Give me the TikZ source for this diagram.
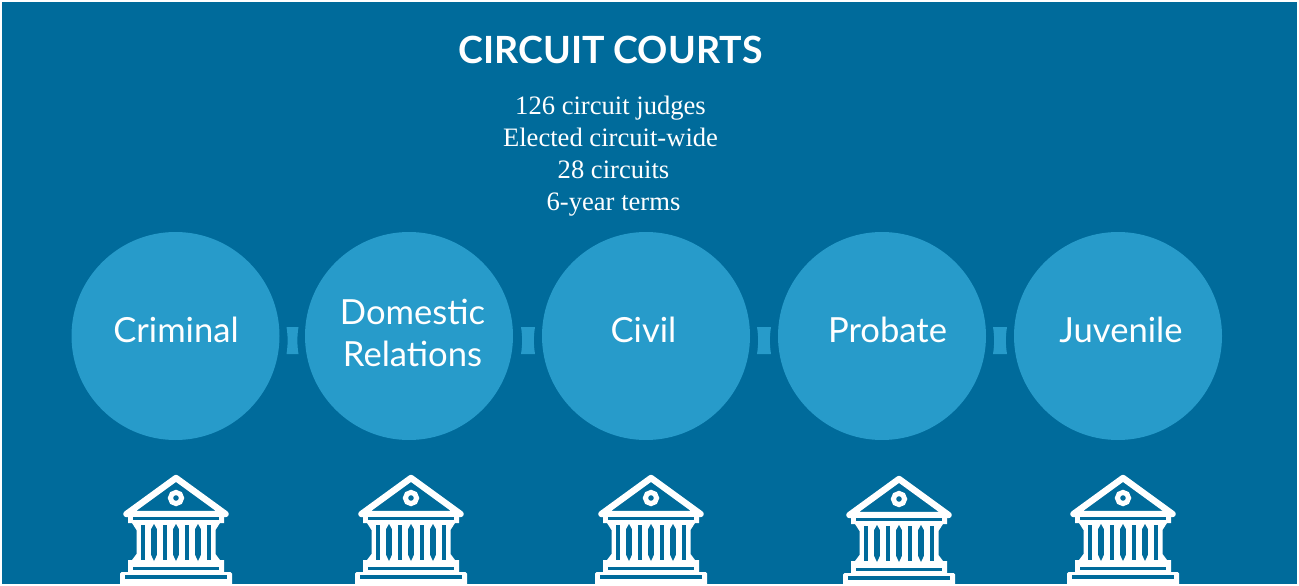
\documentclass[tikz,border=0pt]{standalone}
\usepackage{fontspec}
\setmainfont{Lato}
\newfontfamily\bodyfont{Liberation Serif}
\usetikzlibrary{calc}
\definecolor{bgblue}{HTML}{006B9B}
\definecolor{circblue}{HTML}{279BCA}
\tikzset{
  x=1pt,y=-1pt,
  topic/.style={circle,fill=circblue,draw=none,minimum size=208pt,inner sep=0pt},
  topiclabel/.style={text=white,font=\fontsize{34.6}{42.5}\selectfont,inner sep=0pt,align=center},
  title/.style={text=white,font=\fontsize{37.5}{50}\selectfont\bfseries,inner sep=0pt,anchor=base},
  detail/.style={text=white,font=\fontsize{26.6}{32}\selectfont\bodyfont,inner sep=0pt,anchor=base},
  linkfill/.style={fill=circblue,draw=none},
  court/.pic={
    % roof
    \draw[draw=white,line width=6.4pt,line join=round,line cap=round] (0,-58) -- (-49.5,-22) -- (49.5,-22) -- cycle;
    \draw[draw=white,line width=5pt] (0,-38) circle (5.6);
    % upper beam, columns, lower beam
    \fill[white] (-48,-21) -- (48,-21) -- (48,-13) -- (44,-13) -- (39.5,-6) -- (39.5,18) -- (44,24)
       -- (48,24) -- (48,36) -- (-48,36) -- (-48,24) -- (-44,24) -- (-39.5,18) -- (-39.5,-6) -- (-44,-13) -- (-48,-13) -- cycle;
    \fill[bgblue] (-43,-19) rectangle (43,-16);
    \fill[bgblue] (-43,31) rectangle (43,33.5);
    \foreach \s in {-33,-11,11,33}{
      \fill[bgblue] (\s-2.2,-11) rectangle (\s+2.2,24);
    }
    \foreach \l in {-22,0,22}{
      \fill[bgblue] (\l,-12) -- (\l+2.8,-7) -- (\l+2.8,19) -- (\l,25) -- (\l-2.8,19) -- (\l-2.8,-7) -- cycle;
    }
    % plate
    \fill[white,rounded corners=1.5pt] (-56,36) rectangle (56,50);
    \fill[bgblue] (-51,39) rectangle (51,42.5);
  }
}
\newcommand{\flarelink}[2]{%
  \fill[linkfill] (#1,327) .. controls (#1+1.5,336) and (#1+1.5,345) .. (#1,354)
    -- (#1+#2,354) .. controls (#1+#2-1.5,345) and (#1+#2-1.5,336) .. (#1+#2,327) -- cycle;
}
\begin{document}
\begin{tikzpicture}
\useasboundingbox (0,0) rectangle (1299,586);
\fill[white] (0,0) rectangle (1299,586);
\fill[bgblue] (2,2) rectangle (1297,584);
\begin{scope}
\clip (2,2) rectangle (1297,584);
\node[title] (head) at (610.5,63.5) {CIRCUIT COURTS};
\node[detail] (d1) at (610.5,114) {126 circuit judges};
\node[detail] (d2) at (610.5,146) {Elected circuit-wide};
\node[detail] (d3) at (613.5,178) {28 circuits};
\node[detail] (d4) at (613.5,210) {6-year terms};
\node[topic] (c1) at (175.5,336) {};
\node[topic] (c2) at (409,336) {};
\node[topic] (c3) at (646,336) {};
\node[topic] (c4) at (882,336) {};
\node[topic] (c5) at (1118,336) {};
\node[topiclabel] (t1) at (176,330) {Criminal};
\node[topiclabel] (t2) at (412.5,333) {Domestic\\Relations};
\node[topiclabel] (t3) at (643.5,330) {Civil};
\node[topiclabel] (t4) at (887.5,330) {Probate};
\node[topiclabel] (t5) at (1121,330) {Juvenile};
\flarelink{286.5}{12}
\flarelink{521}{14}
\flarelink{757}{14}
\flarelink{993}{14}
\pic at (176,536) {court};
\pic at (411,536) {court};
\pic at (651,536) {court};
\pic at (899,537) {court};
\pic at (1123,536) {court};
\end{scope}
\end{tikzpicture}
\end{document}
